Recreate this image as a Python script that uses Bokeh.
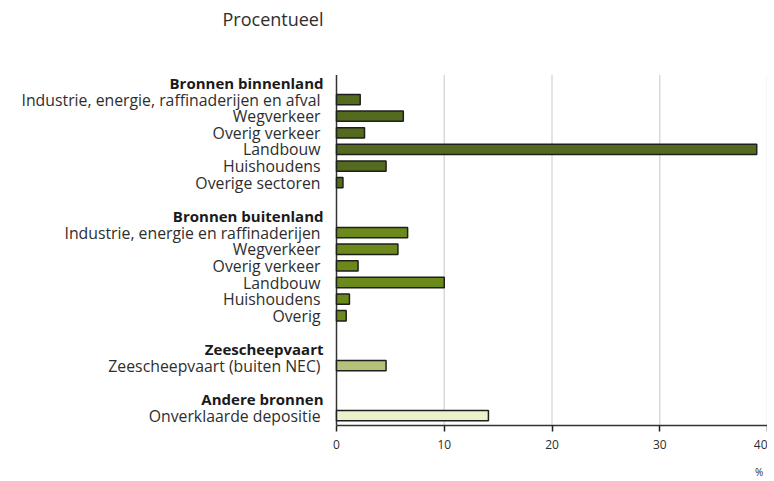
from bokeh.plotting import figure
from bokeh.models import Range1d, ColumnDataSource, FixedTicker, LinearAxis
from bokeh.core.properties import value
from bokeh.embed import file_html
from bokeh.resources import INLINE

# ---- data ----
group_titles = ["Bronnen binnenland", "Bronnen buitenland", "Zeescheepvaart", "Andere bronnen"]
binnenland_labels = ["Industrie, energie, raffinaderijen en afval", "Wegverkeer", "Overig verkeer",
                     "Landbouw", "Huishoudens", "Overige sectoren"]
binnenland_values = [2.2, 6.2, 2.6, 39.0, 4.6, 0.6]
buitenland_labels = ["Industrie, energie en raffinaderijen", "Wegverkeer", "Overig verkeer",
                     "Landbouw", "Huishoudens", "Overig"]
buitenland_values = [6.6, 5.7, 2.0, 10.0, 1.2, 0.9]
zee_labels = ["Zeescheepvaart (buiten NEC)"]
zee_values = [4.6]
andere_labels = ["Onverklaarde depositie"]
andere_values = [14.1]
group_colors = ["#536a1f", "#6c8a1c", "#b4c379", "#edf1cb"]
x_ticks = [0, 10, 20, 30, 40]
title_text = "Procentueel"
unit_text = "%"

groups = [(binnenland_labels, binnenland_values), (buitenland_labels, buitenland_values),
          (zee_labels, zee_values), (andere_labels, andere_values)]

# ---- row positions (row index from top) ----
hdr_y, hdr_t = [], []
row_y, row_t, row_v, row_c = [], [], [], []
pos = 0
for gi, (labs, vals) in enumerate(groups):
    hdr_y.append(pos); hdr_t.append(group_titles[gi]); pos += 1
    for l, v in zip(labs, vals):
        row_y.append(pos); row_t.append(l); row_v.append(v); row_c.append(group_colors[gi]); pos += 1
    pos += 1

# ---- layout constants (pixels) ----
W, H = 767, 481
FRAME_H = 428          # frame from top of figure to x-axis
ZERO_PX = 336          # x position of value 0
FIRST_ROW_PX = 83      # centre of first row
ROW_PX = 16.75         # row spacing
AX_TOP_PX = 75         # top of the vertical axis line / grid

x_max = max(x_ticks)
ppu = (W - ZERO_PX) / x_max
x_start = -ZERO_PX / ppu
y_top = -FIRST_ROW_PX / ROW_PX
y_bot = (FRAME_H - FIRST_ROW_PX) / ROW_PX
y_axtop = (AX_TOP_PX - FIRST_ROW_PX) / ROW_PX
y_title = (19 - FIRST_ROW_PX) / ROW_PX

FONT = "Open Sans"
TXT = "#2e2e2e"

p = figure(width=W, height=H, output_backend="svg", toolbar_location=None,
           x_range=Range1d(x_start, x_max), y_range=Range1d(y_bot, y_top),
           min_border_left=0, min_border_right=0, min_border_top=0,
           min_border_bottom=H - FRAME_H)
p.outline_line_color = None
p.background_fill_color = "white"
p.border_fill_color = "white"
p.xgrid.visible = False
p.ygrid.visible = False
p.yaxis.visible = False

# grid lines and vertical axis line
gx = x_ticks[1:]
p.segment(x0=gx, x1=gx, y0=[y_axtop] * len(gx), y1=[y_bot] * len(gx),
          line_color="#dadada", line_width=1.5)
p.segment(x0=[0], x1=[0], y0=[y_axtop], y1=[y_bot], line_color="#333333", line_width=1.5)

# bars
bars = ColumnDataSource(dict(y=row_y, right=row_v, color=row_c))
p.hbar(y="y", left=0, right="right", height=0.62, fill_color="color",
       line_color="#1f1f1f", line_width=1.5, source=bars)

# x axis
ax = p.xaxis[0]
ax.bounds = (0, x_max)
ax.ticker = FixedTicker(ticks=x_ticks)
ax.axis_line_color = "#333333"
ax.axis_line_width = 1.5
ax.major_tick_line_color = "#222222"
ax.major_tick_line_width = 1.5
ax.major_tick_in = 0
ax.major_tick_out = 6
ax.minor_tick_line_color = None
ax.major_label_text_font = FONT
ax.major_label_text_font_size = "12px"
ax.major_label_text_color = TXT
ax.major_label_standoff = 8

unit_axis = LinearAxis(ticker=FixedTicker(ticks=[x_max]), bounds=(0, x_max),
                       major_label_overrides={x_max: unit_text})
unit_axis.axis_line_color = None
unit_axis.major_tick_line_color = None
unit_axis.minor_tick_line_color = None
unit_axis.major_label_text_font = FONT
unit_axis.major_label_text_font_size = "10px"
unit_axis.major_label_text_color = TXT
unit_axis.major_label_text_align = "right"
unit_axis.major_label_standoff = 7
p.add_layout(unit_axis, "below")

# category labels
p.text(x=[0] * len(hdr_y), y=hdr_y, text=hdr_t, x_offset=-13, text_align="right",
       text_baseline="middle", text_font=value(FONT), text_font_size="15px",
       text_font_style="bold", text_color="#1a1a1a")
p.text(x=[0] * len(row_y), y=row_y, text=row_t, x_offset=-16, text_align="right",
       text_baseline="middle", text_font=value(FONT), text_font_size="15.8px",
       text_color=TXT)

# title
p.text(x=[0], y=[y_title], text=[title_text], x_offset=-13, text_align="right",
       text_baseline="middle", text_font=value(FONT), text_font_size="18px",
       text_color=TXT)

open("out.html", "w").write(file_html(p, INLINE))
